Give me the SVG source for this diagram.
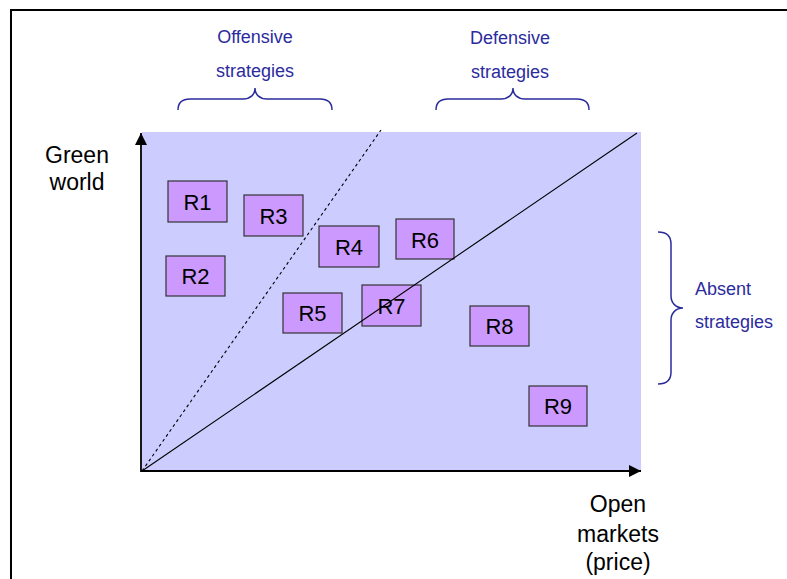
<svg xmlns="http://www.w3.org/2000/svg" width="787" height="579" viewBox="0 0 787 579">
<defs>
<style>
.box rect{fill:#CC99FF;stroke:#333333;stroke-width:1.2}
.box text{font-family:"Liberation Sans",Arial,sans-serif;font-size:22px;fill:#000;text-anchor:middle}
.lbl{font-family:"Liberation Sans",Arial,sans-serif;font-size:23px;fill:#000;text-anchor:middle}
.blue{font-family:"Liberation Sans",Arial,sans-serif;font-size:18px;fill:#2B2B9E}
.brace{fill:none;stroke:#2B2B9E;stroke-width:1.5}
</style>
<marker id="ah" viewBox="0 0 12 12" refX="12" refY="6" markerWidth="12" markerHeight="12" markerUnits="userSpaceOnUse" orient="auto">
<path d="M0,0 L12,6 L0,12 Z" fill="#000"/>
</marker>
</defs>
<rect x="0" y="0" width="787" height="579" fill="#fff"/>
<rect x="11" y="10" width="800" height="600" fill="none" stroke="#000" stroke-width="2"/>
<rect id="plot" x="142" y="132" width="499" height="339" fill="#CCCCFF"/>

<g id="R1" class="box"><rect x="168" y="181" width="59" height="41"/><text x="197.5" y="210">R1</text></g>
<g id="R2" class="box"><rect x="166" y="256" width="59" height="40"/><text x="195.5" y="284">R2</text></g>
<g id="R3" class="box"><rect x="244" y="195" width="59" height="41"/><text x="273.5" y="224">R3</text></g>
<g id="R4" class="box"><rect x="319" y="226" width="60" height="41"/><text x="349" y="255">R4</text></g>
<g id="R5" class="box"><rect x="283" y="293" width="59" height="40"/><text x="312.5" y="321">R5</text></g>
<g id="R6" class="box"><rect x="396" y="219" width="58" height="40"/><text x="425" y="248">R6</text></g>
<g id="R7" class="box"><rect x="362" y="285" width="59" height="41"/><text x="391.5" y="314">R7</text></g>
<g id="R8" class="box"><rect x="470" y="306" width="59" height="40"/><text x="499.5" y="334">R8</text></g>
<g id="R9" class="box"><rect x="529" y="386" width="58" height="40"/><text x="558" y="414">R9</text></g>

<g id="connectors" fill="none" stroke="#000">
<line x1="141" y1="472" x2="141" y2="133" stroke-width="1.8" marker-end="url(#ah)"/>
<line x1="141" y1="471" x2="641" y2="471" stroke-width="1.8" marker-end="url(#ah)"/>
<line x1="142" y1="471" x2="637" y2="133" stroke-width="1.1"/>
<line x1="142" y1="471" x2="381" y2="130" stroke-width="1.1" stroke-dasharray="3,3"/>
</g>

<g id="axis-labels">
<text class="lbl" x="77" y="163">Green</text>
<text class="lbl" x="77" y="190">world</text>
<text class="lbl" x="618" y="512">Open</text>
<text class="lbl" x="618" y="542">markets</text>
<text class="lbl" x="618" y="570">(price)</text>
</g>

<g id="offensive">
<text class="blue" x="255" y="43" text-anchor="middle">Offensive</text>
<text class="blue" x="255" y="77" text-anchor="middle">strategies</text>
<path class="brace" d="M178,110 C178,103 182,99 190,99 L243,99 C250,99 255,95 255,88 C255,95 260,99 267,99 L320,99 C328,99 332,103 332,110"/>
</g>
<g id="defensive">
<text class="blue" x="510" y="44" text-anchor="middle">Defensive</text>
<text class="blue" x="510" y="78" text-anchor="middle">strategies</text>
<path class="brace" d="M436,110 C436,103 440,99 448,99 L501,99 C508,99 513,95 513,88 C513,95 518,99 525,99 L577,99 C585,99 589,103 589,110"/>
</g>
<g id="absent">
<text class="blue" x="695" y="295">Absent</text>
<text class="blue" x="695" y="328">strategies</text>
<path class="brace" d="M658,232 C666,232 671,236 671,244 L671,296 C671,303 676,308 683,308 C676,308 671,313 671,320 L671,372 C671,380 666,384 658,384"/>
</g>
</svg>
